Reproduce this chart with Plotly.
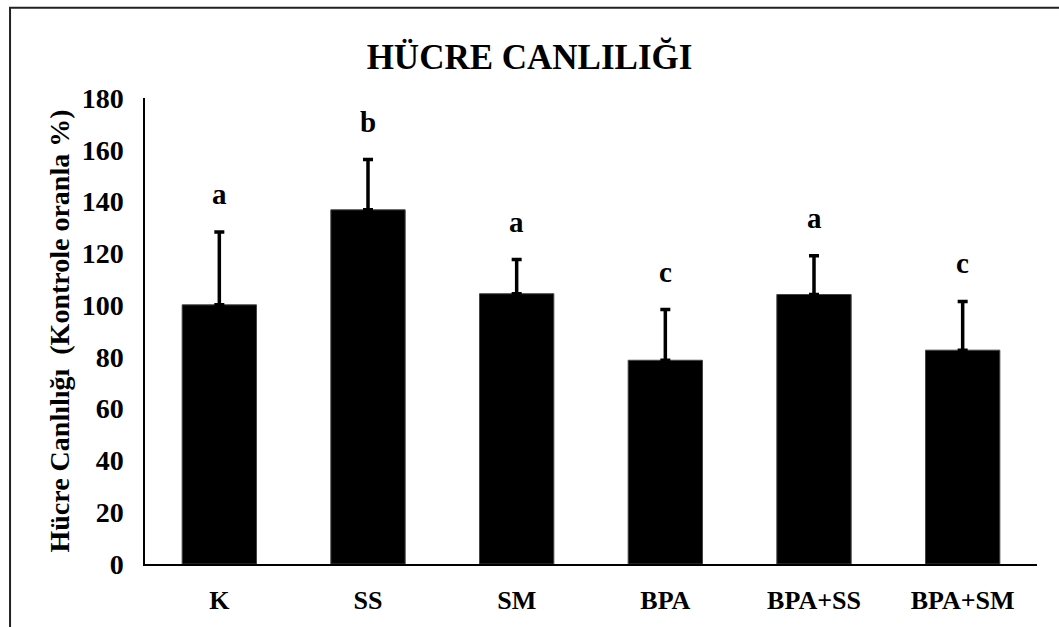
import plotly.graph_objects as go

categories = ["K", "SS", "SM", "BPA", "BPA+SS", "BPA+SM"]
means = [100.1, 136.8, 104.4, 78.7, 104.1, 82.6]
error_top = [128.2, 156.2, 117.6, 98.3, 119.1, 101.4]
letters = ["a", "b", "a", "c", "a", "c"]
y_ticks = [0, 20, 40, 60, 80, 100, 120, 140, 160, 180]

FONT = "Liberation Serif"

err_plus = [t - m for t, m in zip(error_top, means)]

fig = go.Figure()
fig.add_trace(go.Bar(
    x=categories, y=means,
    marker=dict(color="black", line=dict(color="#444444", width=1)),
    error_y=dict(type="data", array=err_plus, arrayminus=[0] * len(means),
                 symmetric=False, color="black", thickness=3.5, width=5),
    showlegend=False,
))

for c, t, l in zip(categories, error_top, letters):
    fig.add_annotation(x=c, y=t, text=f"<b>{l}</b>", showarrow=False,
                       yanchor="bottom", yshift=20,
                       font=dict(family=FONT, size=29, color="black"))

fig.update_layout(
    width=1059, height=627,
    margin=dict(l=145, r=22, t=98, b=59),
    paper_bgcolor="white", plot_bgcolor="white",
    bargap=0.5,
    title=dict(text="<b>HÜCRE CANLILIĞI</b>", x=0.5, xanchor="center",
               y=0.91, yanchor="middle",
               font=dict(family=FONT, size=35, color="black")),
    font=dict(family=FONT, color="black"),
)
fig.update_xaxes(
    showline=True, linecolor="black", linewidth=2,
    showgrid=False, ticks="", ticklabelstandoff=12,
    tickfont=dict(family=FONT, size=26, color="black", weight="bold"),
)
fig.update_yaxes(
    range=[0, 180], tickvals=y_ticks,
    showline=True, linecolor="black", linewidth=1.5,
    showgrid=False, zeroline=False, ticks="", ticklabelstandoff=14,
    tickfont=dict(family=FONT, size=28, color="black", weight="bold"),
    title=dict(text="<b>Hücre Canlılığı\u00a0 (Kontrole oranla %)</b>",
               font=dict(family=FONT, size=28, color="black"), standoff=4),
)

fig.add_shape(type="rect", xref="paper", yref="paper",
              x0=-0.1513, x1=1.05, y0=-0.3, y1=1.1936,
              line=dict(color="#222222", width=2), fillcolor="rgba(0,0,0,0)",
              layer="above")

fig.write_html("out.html")
